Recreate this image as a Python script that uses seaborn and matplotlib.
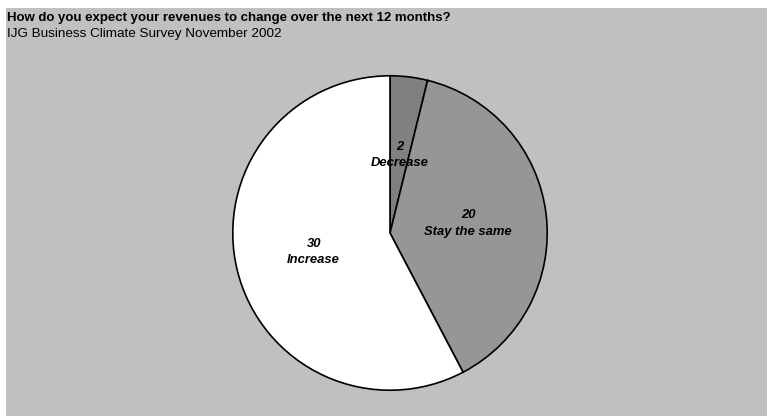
import numpy as np
import matplotlib
matplotlib.use("Agg")
import matplotlib.pyplot as plt
import matplotlib.patches as mpatches
import seaborn as sns

sns.set_theme(style="white")
plt.rcParams['font.family'] = ['Liberation Sans', 'DejaVu Sans']

categories = ["Decrease", "Stay the same", "Increase"]
counts = [2, 20, 30]
slice_colors = ["#808080", "#969696", "#FFFFFF"]

title = "How do you expect your revenues to change over the next 12 months?"
subtitle = "IJG Business Climate Survey November 2002"

W, H = 768, 416
fig = plt.figure(figsize=(W / 100, H / 100), dpi=100)
fig.patch.set_facecolor("white")

# grey chart area, kept behind the pie axes
fig.patches.append(mpatches.Rectangle((6 / W, 0), 761 / W, (H - 8) / H,
                                      transform=fig.transFigure,
                                      facecolor="#C0C0C0", edgecolor="none",
                                      zorder=-10))

fig.text(7 / W, 1 - 18 / H, title, fontsize=9.5, fontweight="bold",
         ha="left", va="center", color="black")
fig.text(7 / W, 1 - 34 / H, subtitle, fontsize=9.7,
         ha="left", va="center", color="black")

# pie axes: centre (390, 233), radius 158 px
cx, cy, r = 390, 233, 158
ax = fig.add_axes([(cx - r) / W, 1 - (cy + r) / H, 2 * r / W, 2 * r / H])
ax.set_facecolor("none")
ax.patch.set_alpha(0)
wedges, _ = ax.pie(counts, colors=slice_colors, startangle=90,
                   counterclock=False,
                   wedgeprops=dict(edgecolor="black", linewidth=1.2))
ax.set_xlim(-1.005, 1.005)
ax.set_ylim(-1.005, 1.005)
ax.set_aspect("equal")

# value + category label inside each slice, halfway out along its bisector
for w, cat, val in zip(wedges, categories, counts):
    ang = np.deg2rad((w.theta1 + w.theta2) / 2)
    ax.text(0.5 * np.cos(ang), 0.5 * np.sin(ang), f"{val}\n{cat}",
            ha="center", va="center", fontsize=9.4, fontweight="bold",
            fontstyle="italic", linespacing=1.45, color="black")

fig.savefig("out.png", dpi=100, facecolor=fig.get_facecolor())
